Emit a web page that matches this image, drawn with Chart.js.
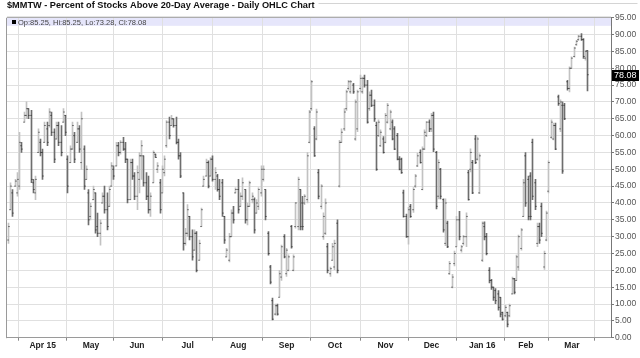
<!DOCTYPE html>
<html>
<head>
<meta charset="utf-8">
<script src="https://cdn.jsdelivr.net/npm/chart.js@4.4.0/dist/chart.umd.min.js"></script>
<style>
  html, body { margin: 0; padding: 0; background: #fff; }
  #wrap { width: 640px; height: 358px; }
</style>
</head>
<body>
<div id="wrap"><canvas id="ohlcChart" width="640" height="358"></canvas></div>
<script>
// daily bars, Mar 11 2015 .. Mar 10 2016 (index = trading day)
const highs = [
  34, 46, 44, 47, 49, 61, 58, 67, 70, 68,
  67.5, 47, 48, 62, 59, 56, 64, 64, 68, 67,
  62, 64, 64, 63, 68, 66, 54, 57, 64, 61,
  64, 63, 67, 57, 51, 44, 40, 45, 43, 37,
  35, 43, 45, 43, 45, 52, 51, 58, 58, 58.5,
  59.5, 58, 53, 53, 53, 49, 51, 55, 58.5, 54,
  49, 48, 43, 55.5, 54.5, 52, 47, 51, 54, 64.5,
  65.5, 66, 65, 65.5, 59, 55, 43, 32.5, 39.5, 36,
  32, 32, 31.5, 29, 38.5, 48, 53, 52.5, 53.5, 54,
  50.5, 48.5, 47, 47, 36, 26.5, 31, 38, 39, 44.5,
  47, 43, 47.5, 44, 40, 46.5, 43, 41.5, 41, 44.5,
  51, 51, 44, 31.5, 21.5, 11.8, 10, 10, 20, 27.5,
  30.6, 26.5, 24.6, 33.4, 24.6, 40.2, 47.7, 44, 42, 42.5,
  55, 67.5, 76.4, 62.7, 67.9, 50, 45.5, 37.1, 41.2, 28,
  21, 28, 29, 35, 58.6, 62, 68, 73.5, 76.4, 76.4,
  75.5, 70.6, 73.5, 78, 77.4, 78, 76.4, 73, 73.5, 70.6,
  64, 64.7, 61.7, 59.7, 66.6, 69.6, 67.6, 64.7, 62.7, 60.7,
  53.8, 53.3, 43.8, 36.7, 38.7, 39.6, 44.6, 48.5, 54.8, 55.8,
  56.7, 61.7, 64.2, 64.7, 66.6, 67, 55.3, 52.8, 50.3, 41.2,
  41.2, 34.6, 22.7, 18.8, 25.7, 36, 37.5, 27.4, 30.4, 37.1,
  49.7, 56.1, 52.7, 60.1, 59.6, 54.6, 34.4, 34.4, 31, 20.8,
  17.3, 15, 14.6, 14, 12, 7.6, 9.6, 7.6, 10, 18,
  17.6, 24.5, 30.5, 32.5, 47, 55, 48, 49, 59, 47,
  34, 34, 40, 25.7, 37.6, 52.5, 64.7, 63.7, 63.7, 72,
  70.6, 70, 69.6, 76.4, 80.4, 83.4, 86.3, 88.3, 89.8, 90.3,
  88.8, 85.3, 85.25
];
const lows = [
  28, 38, 36, 45, 42, 44, 55, 64, 65, 65,
  46, 43, 41, 55, 54, 47, 58, 57, 62.5, 60,
  52, 59, 57, 54, 64, 60, 43, 52, 56, 52,
  58, 55, 50, 44, 47, 33.5, 35, 41, 31, 30,
  27.5, 40, 37, 32, 39, 45, 47, 51, 54, 54.5,
  55.6, 52, 40, 41, 47, 41, 38, 43, 47, 45,
  41, 37, 36, 46, 53.5, 49, 37, 43, 48, 56.5,
  59, 63, 62.5, 57.5, 53, 47.5, 26, 27.5, 30, 29,
  23, 26, 19.5, 23, 33, 45, 48, 44.5, 48, 46.5,
  44, 43.5, 41, 36, 28, 24, 22.5, 30, 34, 43,
  37, 39, 41, 34, 33.5, 39, 40, 31, 37, 38,
  42, 46.5, 35, 24.5, 16, 5.3, 6.7, 6.7, 12, 17,
  23.7, 18.2, 19.8, 26.6, 19.8, 32.5, 32, 32, 32, 39.5,
  40, 57.8, 67.5, 53.8, 58.7, 41.2, 38.2, 29.2, 30.6, 19.2,
  18.2, 23, 20.2, 19.2, 44.7, 58, 61.5, 67.5, 73.5, 72.5,
  72.5, 58.6, 61.2, 73, 72.5, 74.4, 63.7, 67.5, 68.6, 64.2,
  49.7, 59.7, 56.7, 54.8, 57.8, 63.7, 61.7, 58.7, 55.8, 52.8,
  49.8, 48.8, 35.8, 29.8, 27.8, 35.7, 37.2, 44.6, 50.8, 51.8,
  43.9, 55.8, 59.7, 61.2, 61.2, 55.2, 38.2, 41.2, 41.2, 31.3,
  27.3, 26.7, 18.8, 14.8, 21.3, 27, 29, 25.4, 27.5, 27,
  40.8, 49.2, 42.8, 51.7, 52.7, 42.8, 22.6, 29, 24.6, 16.3,
  14.3, 11.1, 10.1, 8.2, 6.2, 5.2, 6.2, 3.2, 6.2, 13,
  13, 17, 20, 26, 36, 39, 35, 35, 41, 38,
  27, 28, 30, 20.3, 28.7, 43, 59.2, 58.7, 55.8, 69,
  61.2, 48.8, 64.7, 73.5, 73, 79.9, 83.3, 86.8, 88.3, 88.3,
  82.9, 82.4, 73.28
];
const opens = [
  29, 38, 43, 45, 43, 45, 57, 64, 66, 68,
  66, 46, 43, 55, 58, 55, 58, 62, 63, 66,
  61, 59, 63, 58, 64, 66, 53, 52, 56, 60,
  58, 62, 52, 56, 47, 43, 36, 41, 43, 33,
  31, 40, 42, 38, 39, 45, 50, 51, 57, 55,
  58, 56, 53, 41, 52, 48, 42, 47, 54, 54,
  46, 42, 38, 46, 54.5, 50, 46, 43, 49, 57,
  64, 63, 65, 63, 58, 54, 43, 28, 31, 36,
  30, 26, 31, 23, 33, 45, 48, 52, 48, 53,
  47, 48, 44, 46, 36, 24, 23, 30, 37, 43,
  44, 39, 42, 44, 35, 39, 41, 41, 37, 39,
  43, 47, 44, 31, 21, 11, 7, 9.5, 12, 18,
  30, 19, 20, 33, 20, 33, 33, 44, 40, 40,
  41, 58, 68, 62, 59, 49, 39, 30, 31, 27,
  19, 23, 21, 34, 45, 58, 62, 68, 74, 73,
  75, 59, 62, 74, 73, 77, 75, 68, 72, 69,
  63, 60, 57, 59, 58, 64, 62, 64, 62, 60,
  53, 53, 43, 36, 30, 39, 38, 45, 51, 55,
  44, 56, 60, 64, 62, 66, 55, 42, 50, 41,
  28, 34, 19, 15, 22, 27, 35, 26, 28, 30,
  49, 50, 52, 59, 53, 43, 23, 33, 30, 20,
  17, 15, 14, 13, 12, 7.5, 6.5, 7.5, 6.5, 13,
  17.5, 17, 21, 26.5, 36, 54, 47, 48, 58, 46,
  28, 33, 39, 21, 29, 43.5, 59.5, 59, 63, 71.5,
  62, 69, 69, 76, 74, 80, 83.5, 87, 88.5, 89.5,
  88.5, 83, 85.25
];
const closes = [
  33, 45, 37, 46.5, 47, 58, 56, 66, 68, 66,
  47, 44, 47, 61, 55, 48, 63, 58, 67, 61,
  53, 63, 58, 55, 67, 61, 45, 56, 63, 53,
  62, 56, 65, 45, 50, 35, 39, 44, 32, 31,
  34, 42, 38, 33, 44, 51, 48, 57, 55, 58,
  56, 53, 41, 52, 48, 42, 49, 54, 57, 46,
  42, 38, 42, 55, 53.5, 51, 38, 50, 53, 64,
  60, 65, 63, 58, 54, 48, 28, 31, 38, 30,
  24, 31, 20, 28, 38, 47, 52, 45, 53, 47,
  49, 44, 42, 37, 29, 26, 30, 37, 35, 44,
  38, 42, 46, 35, 39, 46, 42, 32, 40, 44,
  50, 50, 36, 25, 16.5, 5.5, 9.5, 7, 19, 27,
  24, 26, 24, 27, 24, 40, 47, 33, 33, 42,
  54, 67, 76, 54, 67, 42, 45, 36, 40, 20,
  20.5, 27, 28, 20, 58, 61, 67, 73, 76, 76,
  73, 70, 73, 77, 77, 75, 64, 72, 69, 65,
  50, 64, 61, 55, 66, 69, 67, 59, 56, 53,
  50, 49, 36, 30, 38, 36, 44, 48, 54, 52,
  56, 61, 64, 62, 66, 56, 39, 52, 42, 32,
  40, 27, 22, 18, 25, 35, 30, 27, 30, 36,
  41, 55, 43, 52, 59, 54, 34, 30, 25, 17,
  15, 12, 11, 9, 7, 5.5, 9, 4, 9.5, 17.5,
  13.5, 24, 30, 32, 46, 40, 36, 36, 42, 39,
  33, 29, 31, 25, 37, 52, 64, 63, 56, 69.5,
  70, 49.5, 65, 74, 80, 83, 86, 88, 89.5, 88.5,
  83.5, 85, 78.08
];
// x-axis labels sit on the first trading day of each month
const monthLabels = ["Apr 15", "May", "Jun", "Jul", "Aug", "Sep", "Oct", "Nov", "Dec", "Jan 16", "Feb", "Mar"];
const monthStarts = [15, 36, 56, 78, 100, 121, 142, 164, 184, 206, 225, 245];

const lastIdx = closes.length - 1;
const upColor = "#c2c2c2";
const downColor = "#6e6e6e";
const barColors = closes.map((c, i) => (c >= opens[i] ? upColor : downColor));

const fontFamily = "'Liberation Sans', Arial, sans-serif";
const titleText = "$MMTW - Percent of Stocks Above 20-Day Average - Daily OHLC Chart";

// snap each bar / tick to a whole pixel column so the 1px lines stay crisp
const snapPlugin = {
    id: "snap",
    beforeDatasetsDraw(chart) {
        chart.data.datasets.forEach((ds, di) => {
            chart.getDatasetMeta(di).data.forEach((el) => {
                if (el._snapped === undefined) {
                    el.x = Math.floor(el.x) + 0.5;
                    el._snapped = true;
                }
            });
        });
    }
};

// lavender info strip, frame, last-value flag
const decorPlugin = {
    id: "decor",
    beforeDraw(chart) {
        const { ctx, chartArea, scales } = chart;
        ctx.save();
        ctx.fillStyle = "#fff";
        ctx.fillRect(0, 0, chart.width, chart.height);
        const yBand = scales.y.getPixelForValue(92.6);
        ctx.fillStyle = "#e6e6fb";
        ctx.fillRect(chartArea.left, chartArea.top, chartArea.right - chartArea.left, yBand - chartArea.top);
        ctx.restore();
    },
    afterDraw(chart) {
        const { ctx, chartArea, scales } = chart;
        ctx.save();
        ctx.strokeStyle = "#9a9a9a";
        ctx.lineWidth = 1;
        ctx.beginPath();
        ctx.moveTo(chartArea.left - 0.5, chartArea.top);
        ctx.lineTo(chartArea.left - 0.5, chartArea.bottom + 0.5);
        ctx.moveTo(chartArea.left, chartArea.top - 0.5);
        ctx.lineTo(chartArea.right, chartArea.top - 0.5);
        ctx.stroke();
        // thin rule after the title
        ctx.font = "bold 9.2px " + fontFamily;
        const tw = ctx.measureText(titleText).width;
        ctx.strokeStyle = "#d4d4d4";
        ctx.beginPath();
        ctx.moveTo(chartArea.left + tw + 4, 3.5);
        ctx.lineTo(637.5, 3.5);
        ctx.stroke();
        // info text in the strip
        ctx.fillStyle = "#000";
        ctx.fillRect(12, 20, 4, 4);
        ctx.fillStyle = "#444";
        ctx.font = "7.5px " + fontFamily;
        ctx.textBaseline = "middle";
        ctx.textAlign = "left";
        const o = opens[lastIdx].toFixed(2), h = highs[lastIdx].toFixed(2);
        const l = lows[lastIdx].toFixed(2), c = closes[lastIdx].toFixed(2);
        ctx.fillText("Op:" + o + ", Hi:" + h + ", Lo:" + l + ", Cl:" + c, 18, 22.5);
        // last value flag
        const yLast = Math.round(scales.y.getPixelForValue(closes[lastIdx]));
        ctx.fillStyle = "#000";
        ctx.fillRect(chartArea.right + 1, yLast - 5, 27, 11);
        ctx.fillStyle = "#fff";
        ctx.font = "9px " + fontFamily;
        ctx.fillText(c, chartArea.right + 3, yLast + 0.5);
        ctx.restore();
    }
};

const ctx = document.getElementById("ohlcChart").getContext("2d");

new Chart(ctx, {
    type: "bar",
    data: {
        datasets: [
            {
                label: "High-Low",
                data: highs.map((h, i) => ({ x: i, y: [lows[i], h] })),
                backgroundColor: barColors,
                borderWidth: 0,
                barThickness: 1,
                grouped: false,
                order: 2
            },
            {
                type: "scatter",
                label: "Open",
                data: opens.map((o, i) => ({ x: i, y: o })),
                pointStyle: "dash",
                rotation: 180,
                radius: 1,
                borderWidth: 1,
                borderColor: "#222",
                order: 1
            },
            {
                type: "scatter",
                label: "Close",
                data: closes.map((c, i) => ({ x: i, y: c })),
                pointStyle: "dash",
                rotation: 0,
                radius: 1,
                borderWidth: 1,
                borderColor: "#222",
                order: 1
            }
        ]
    },
    options: {
        responsive: false,
        devicePixelRatio: 1,
        animation: false,
        events: [],
        layout: { padding: { left: 7, right: 0, top: 0, bottom: 0 } },
        plugins: {
            legend: { display: false },
            tooltip: { enabled: false },
            title: {
                display: true,
                text: titleText,
                align: "start",
                color: "#111",
                font: { family: fontFamily, size: 9.2, weight: "bold", lineHeight: 1.2 },
                padding: { top: 0, bottom: 6.7 }
            }
        },
        scales: {
            x: {
                type: "linear",
                min: -0.5,
                max: 262,
                offset: false,
                afterBuildTicks: (scale) => {
                    scale.ticks = monthStarts.map((v) => ({ value: v }));
                },
                afterFit: (scale) => { scale.height = 20.3; },
                ticks: {
                    autoSkip: false,
                    maxRotation: 0,
                    padding: 0,
                    color: "#222",
                    font: { family: fontFamily, size: 8.5, weight: "bold" },
                    callback: (v) => monthLabels[monthStarts.indexOf(v)]
                },
                grid: { color: "#e0e0e0", tickColor: "#888", tickLength: 3 },
                border: { color: "#9a9a9a" }
            },
            y: {
                position: "right",
                min: 0,
                max: 95,
                afterFit: (scale) => { scale.width = 29; },
                ticks: {
                    stepSize: 5,
                    padding: 1,
                    color: "#555",
                    font: { family: fontFamily, size: 8.5 },
                    callback: (v) => v.toFixed(2)
                },
                grid: { color: "#e0e0e0", tickColor: "#777", tickLength: 3 },
                border: { color: "#777" }
            }
        }
    },
    plugins: [snapPlugin, decorPlugin]
});
</script>
</body>
</html>
